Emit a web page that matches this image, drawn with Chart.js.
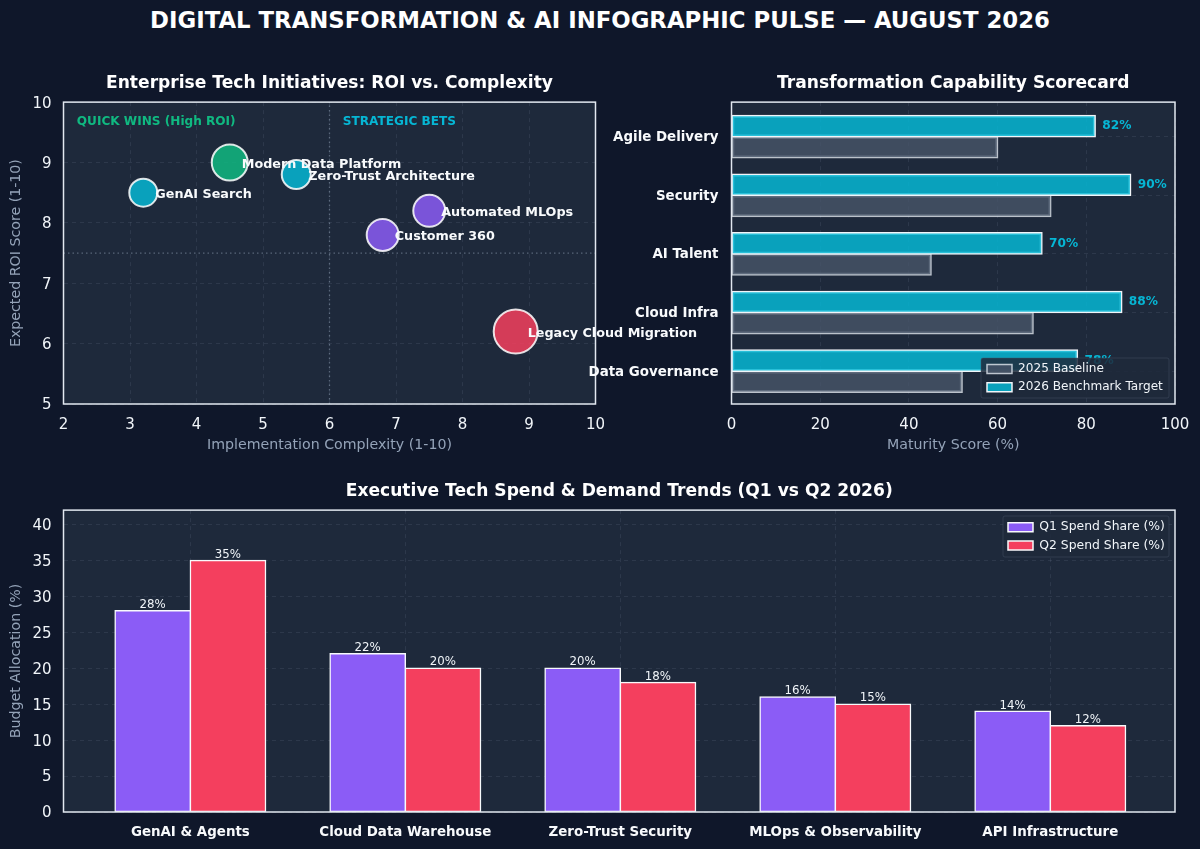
<!DOCTYPE html>
<html>
<head>
<meta charset="utf-8">
<script src="https://cdn.jsdelivr.net/npm/chart.js@4/dist/chart.umd.js"></script>
<style>
  html, body { margin: 0; padding: 0; background: #0f172a; }
  #page { position: relative; width: 1200px; height: 849px; overflow: hidden; background: #0f172a; }
  #page canvas { position: absolute; left: 0; top: 0; }
  h1 { position: absolute; left: 0; top: 6px; width: 1200px; margin: 0; text-align: center; color: #fff;
       font: bold 22.8px/28px "DejaVu Sans"; }
</style>
</head>
<body>
<div id="page">
  <h1>DIGITAL TRANSFORMATION &amp; AI INFOGRAPHIC PULSE — AUGUST 2026</h1>
  <canvas id="roi" width="1200" height="849"></canvas>
  <canvas id="score" width="1200" height="849"></canvas>
  <canvas id="spend" width="1200" height="849"></canvas>
</div>
<script>
// scatter: ROI vs complexity
const initiatives = ['GenAI Search', 'Modern Data Platform', 'Zero-Trust Architecture', 'Automated MLOps', 'Customer 360', 'Legacy Cloud Migration'];
const complexity = [3.2, 4.5, 5.5, 7.5, 6.8, 8.8];
const roi = [8.5, 9.0, 8.8, 8.2, 7.8, 6.2];
const impact = [14, 18, 14.5, 16, 16, 22];
const initiativeColors = ['#06b6d4', '#10b981', '#06b6d4', '#8b5cf6', '#8b5cf6', '#f43f5e'];

// scorecard
const capabilities = ['Agile Delivery', 'Security', 'AI Talent', 'Cloud Infra', 'Data Governance'];
const baseline2025 = [60, 72, 45, 68, 52];
const target2026 = [82, 90, 70, 88, 78];

// spend
const spendCategories = ['GenAI & Agents', 'Cloud Data Warehouse', 'Zero-Trust Security', 'MLOps & Observability', 'API Infrastructure'];
const q1Spend = [28, 22, 20, 16, 14];
const q2Spend = [35, 20, 18, 15, 12];

const FONT = '"DejaVu Sans"';
const TICK = '#f1f5f9';
const MUTED = '#94a3b8';
const EDGE = '#e2e8f0';
const GRID = 'rgba(148,163,184,0.13)';

Chart.defaults.font.family = FONT;
Chart.defaults.animation = false;
Chart.defaults.responsive = false;
Chart.defaults.devicePixelRatio = 1;

const axisTitle = (text) => ({ display: true, text, color: MUTED, font: { size: 14.2 }, padding: 0 });
const chartTitle = (text) => ({
  display: true, text, color: '#fff', fullSize: false,
  font: { size: 17.1, weight: 'bold' }, padding: { top: 0, bottom: 8.3 }
});
const gridOpts = { color: GRID, lineWidth: 1, drawTicks: false, offset: false };
const borderOpts = { display: false, dash: [4, 4] };
const tickOpts = { color: TICK, font: { size: 15 }, padding: 12, autoSkip: false, maxRotation: 0 };
const yTickOpts = { ...tickOpts, labelOffset: 1.5 };
const fixedWidth = (size) => (scale) => { scale.width = size; };
// x axis: fixed height, and its end labels must not push the plot in
const fixedHeight = (size) => (scale) => {
  scale.height = size;
  scale.paddingLeft = 0;
  scale.paddingRight = 0;
};
// numeric axis that shows one tick per category
const categoryTicks = (names) => (scale) => {
  scale.ticks = names.map((name, value) => ({ value }));
};
const barBase = { borderWidth: 1.5, borderSkipped: false, inflateAmount: 0.75 };

// plot background and frame
const framePlugin = {
  id: 'plotFrame',
  beforeDraw(chart) {
    const a = chart.chartArea;
    chart.ctx.fillStyle = '#1e293b';
    chart.ctx.fillRect(a.left, a.top, a.width, a.height);
  },
  afterDatasetsDraw(chart) {
    const a = chart.chartArea;
    chart.ctx.strokeStyle = EDGE;
    chart.ctx.lineWidth = 1.5;
    chart.ctx.setLineDash([]);
    chart.ctx.strokeRect(a.left, a.top, a.width, a.height);
  }
};

// legend inside the plot, on top of the bars
const floatingLegend = {
  id: 'floatingLegend',
  beforeLayout(chart, args, opts) {
    const lg = chart.legend;
    if (!opts.box) return;
    lg._layers = () => [{
      z: 5,
      draw(area) {
        const c = chart.ctx, b = opts.box;
        c.save();
        c.fillStyle = 'rgba(30,41,59,0.85)';
        c.strokeStyle = 'rgba(71,85,105,0.45)';
        c.lineWidth = 1;
        c.beginPath();
        c.roundRect(b.x, b.y, b.w, b.h, 2);
        c.fill();
        c.stroke();
        c.restore();
        lg.draw(area);
      }
    }];
  },
  afterLayout(chart, args, opts) {
    if (!opts.box) return;
    const lg = chart.legend;
    lg.left = opts.box.x + opts.dx;
    lg.top = opts.box.y - 1;
    lg.right = lg.left + lg.width;
    lg.bottom = lg.top + lg.height;
  }
};

const roiChart = new Chart(document.getElementById('roi'), {
  type: 'bubble',
  data: {
    datasets: [
      {
        data: complexity.map((x, i) => ({ x, y: roi[i], r: impact[i] })),
        backgroundColor: initiativeColors.map((c) => c + 'd9'),
        borderColor: 'rgba(255,255,255,0.85)',
        borderWidth: 2,
        order: 1
      },
      {
        type: 'line', data: [{ x: 2, y: 7.5 }, { x: 10, y: 7.5 }],
        borderColor: 'rgba(148,163,184,0.5)', borderWidth: 1.3, borderDash: [1.5, 3], pointRadius: 0, order: 2
      },
      {
        type: 'line', data: [{ x: 6, y: 5 }, { x: 6, y: 10 }],
        borderColor: 'rgba(148,163,184,0.5)', borderWidth: 1.3, borderDash: [1.5, 3], pointRadius: 0, order: 2
      }
    ]
  },
  options: {
    layout: { padding: { left: 0, top: 73.3, right: 604.5, bottom: 395.6 } },
    scales: {
      x: { type: 'linear', min: 2, max: 10, title: axisTitle('Implementation Complexity (1-10)'),
           ticks: { ...tickOpts, stepSize: 1 }, grid: gridOpts, border: borderOpts,
           afterFit: fixedHeight(49.4) },
      y: { min: 5, max: 10, title: { ...axisTitle('Expected ROI Score (1-10)'), padding: { top: 7.5, bottom: 0 } },
           ticks: { ...yTickOpts, stepSize: 1 }, grid: gridOpts, border: borderOpts,
           afterFit: fixedWidth(63.5) }
    },
    plugins: {
      legend: { display: false },
      tooltip: { enabled: false },
      title: chartTitle('Enterprise Tech Initiatives: ROI vs. Complexity')
    }
  },
  plugins: [framePlugin, {
    id: 'roiLabels',
    afterDatasetsDraw(chart) {
      const c = chart.ctx, xs = chart.scales.x, ys = chart.scales.y;
      c.save();
      c.textBaseline = 'middle';
      c.font = 'bold 12.1px ' + FONT;
      c.fillStyle = '#10b981';
      c.fillText('QUICK WINS (High ROI)', xs.getPixelForValue(2.2), ys.getPixelForValue(9.67));
      c.fillStyle = '#06b6d4';
      c.fillText('STRATEGIC BETS', xs.getPixelForValue(6.2), ys.getPixelForValue(9.67));
      c.font = 'bold 12.75px ' + FONT;
      c.fillStyle = '#f8fafc';
      chart.getDatasetMeta(0).data.forEach((pt, i) => {
        c.fillText(initiatives[i], pt.x + 12, pt.y + 2);
      });
      c.restore();
    }
  }]
});

const scoreChart = new Chart(document.getElementById('score'), {
  type: 'bar',
  data: {
    datasets: [
      { ...barBase, label: '2026 Benchmark Target', data: target2026.map((x, i) => ({ x, y: i })),
        backgroundColor: 'rgba(6,182,212,0.85)', borderColor: '#f1f5f9' },
      { ...barBase, label: '2025 Baseline', data: baseline2025.map((x, i) => ({ x, y: i })),
        backgroundColor: 'rgba(71,85,105,0.8)', borderColor: 'rgba(226,232,240,0.8)' }
    ]
  },
  options: {
    indexAxis: 'y',
    layout: { padding: { left: 0, top: 73.3, right: 25, bottom: 395.6 } },
    datasets: { bar: { categoryPercentage: 0.72, barPercentage: 1 } },
    scales: {
      x: { type: 'linear', min: 0, max: 100, title: axisTitle('Maturity Score (%)'),
           ticks: { ...tickOpts, stepSize: 20 }, grid: gridOpts, border: borderOpts,
           afterFit: fixedHeight(49.4) },
      y: { type: 'linear', reverse: true, offset: false, bounds: 'data', min: -0.59, max: 4.56,
           ticks: { ...tickOpts, stepSize: 1, includeBounds: false, padding: 13, labelOffset: 1, color: '#f8fafc',
                    font: { size: 13.4, weight: 'bold' }, callback: (v) => capabilities[v] },
           afterBuildTicks: categoryTicks(capabilities),
           grid: gridOpts, border: borderOpts,
           afterFit: fixedWidth(731.5) }
    },
    plugins: {
      legend: { position: 'chartArea', reverse: true, align: 'start',
                labels: { color: '#f1f5f9', boxWidth: 25, boxHeight: 9, padding: 6, font: { size: 12.1 } } },
      tooltip: { enabled: false },
      title: chartTitle('Transformation Capability Scorecard'),
      floatingLegend: { box: { x: 981, y: 358, w: 188, h: 40 }, dx: 0 }
    }
  },
  plugins: [framePlugin, floatingLegend, {
    id: 'scoreLabels',
    afterDatasetsDraw(chart) {
      const c = chart.ctx;
      c.save();
      c.textBaseline = 'middle';
      c.font = 'bold 12.2px ' + FONT;
      c.fillStyle = '#06b6d4';
      chart.getDatasetMeta(0).data.forEach((bar, i) => {
        c.fillText(target2026[i] + '%', bar.x + 7, bar.y);
      });
      c.restore();
    }
  }]
});

const spendChart = new Chart(document.getElementById('spend'), {
  type: 'bar',
  data: {
    datasets: [
      { ...barBase, label: 'Q1 Spend Share (%)', data: q1Spend.map((y, i) => ({ x: i, y })),
        backgroundColor: '#8b5cf6', borderColor: '#f8fafc' },
      { ...barBase, label: 'Q2 Spend Share (%)', data: q2Spend.map((y, i) => ({ x: i, y })),
        backgroundColor: '#f43f5e', borderColor: '#f8fafc' }
    ]
  },
  options: {
    layout: { padding: { left: 0, top: 481.3, right: 25, bottom: 0 } },
    datasets: { bar: { categoryPercentage: 0.7, barPercentage: 1 } },
    scales: {
      x: { type: 'linear', offset: false, bounds: 'data', min: -0.59, max: 4.58,
           ticks: { ...tickOpts, stepSize: 1, includeBounds: false, padding: 12, color: '#f8fafc',
                    font: { size: 13.4, weight: 'bold' }, callback: (v) => spendCategories[v] },
           afterBuildTicks: categoryTicks(spendCategories),
           grid: gridOpts, border: borderOpts,
           afterFit: fixedHeight(37) },
      y: { min: 0, max: 42, bounds: 'data', title: { ...axisTitle('Budget Allocation (%)'), padding: { top: 7.5, bottom: 0 } },
           ticks: { ...yTickOpts, stepSize: 5, includeBounds: false },
           afterBuildTicks: (scale) => { scale.ticks = scale.ticks.filter((t) => t.value <= 40); },
           grid: gridOpts, border: borderOpts,
           afterFit: fixedWidth(63.5) }
    },
    plugins: {
      legend: { position: 'chartArea', align: 'start',
                labels: { color: '#f1f5f9', boxWidth: 25, boxHeight: 9, padding: 6, font: { size: 12.4 } } },
      tooltip: { enabled: false },
      title: chartTitle('Executive Tech Spend & Demand Trends (Q1 vs Q2 2026)'),
      floatingLegend: { box: { x: 1003, y: 516, w: 166, h: 41 }, dx: -1 }
    }
  },
  plugins: [framePlugin, floatingLegend, {
    id: 'spendLabels',
    afterDatasetsDraw(chart) {
      const c = chart.ctx;
      c.save();
      c.textAlign = 'center';
      c.textBaseline = 'bottom';
      c.font = '11.8px ' + FONT;
      c.fillStyle = '#f1f5f9';
      [q1Spend, q2Spend].forEach((vals, d) => {
        chart.getDatasetMeta(d).data.forEach((bar, i) => {
          c.fillText(vals[i] + '%', bar.x, bar.y);
        });
      });
      c.restore();
    }
  }]
});
</script>
</body>
</html>
